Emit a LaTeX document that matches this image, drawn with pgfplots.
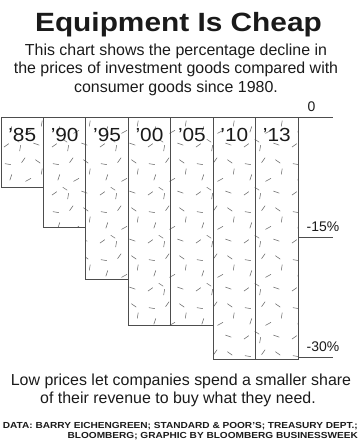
\documentclass[border=0pt]{standalone}
\usepackage{pgfplots}
\pgfplotsset{compat=1.18}
\usepackage{fontspec}
\setmainfont{Liberation Sans}
\usepackage{graphicx}
\usetikzlibrary{patterns}
\definecolor{edge}{HTML}{4D4D4D}
\definecolor{dash}{HTML}{6A6A6A}
\definecolor{txt}{HTML}{1A1A1A}
\pgfdeclarepatternformonly{confetti}{\pgfqpoint{0bp}{0bp}}{\pgfqpoint{48bp}{48bp}}{\pgfqpoint{48bp}{48bp}}{%
  \pgfsetlinewidth{0.55bp}%
  \pgfpathmoveto{\pgfqpoint{4bp}{6bp}}\pgfpathlineto{\pgfqpoint{9bp}{9.5bp}}%
  \pgfpathmoveto{\pgfqpoint{20bp}{2bp}}\pgfpathlineto{\pgfqpoint{21bp}{8bp}}%
  \pgfpathmoveto{\pgfqpoint{34bp}{10bp}}\pgfpathlineto{\pgfqpoint{40bp}{8bp}}%
  \pgfpathmoveto{\pgfqpoint{10bp}{21bp}}\pgfpathlineto{\pgfqpoint{12bp}{27bp}}%
  \pgfpathmoveto{\pgfqpoint{26bp}{20bp}}\pgfpathlineto{\pgfqpoint{31.5bp}{23bp}}%
  \pgfpathmoveto{\pgfqpoint{42bp}{27bp}}\pgfpathlineto{\pgfqpoint{43bp}{33bp}}%
  \pgfpathmoveto{\pgfqpoint{5bp}{38bp}}\pgfpathlineto{\pgfqpoint{11bp}{37bp}}%
  \pgfpathmoveto{\pgfqpoint{22bp}{39bp}}\pgfpathlineto{\pgfqpoint{25.5bp}{44bp}}%
  \pgfpathmoveto{\pgfqpoint{36bp}{42bp}}\pgfpathlineto{\pgfqpoint{41bp}{38.5bp}}%
  \pgfpathmoveto{\pgfqpoint{15bp}{14bp}}\pgfpathlineto{\pgfqpoint{19.5bp}{11bp}}%
  \pgfusepath{stroke}}
\begin{document}
\begin{tikzpicture}[x=1bp,y=1bp]
\useasboundingbox (0,0) rectangle (360,441);
% title and subtitle
\node[anchor=base, txt, inner sep=0] at (178.5,409.3) {\scalebox{1.13}[1]{\fontsize{26.5}{30}\selectfont\bfseries Equipment Is Cheap}};
\node[anchor=base, txt, inner sep=0, font=\fontsize{16}{18}\selectfont] at (176,385.5) {This chart shows the percentage decline in};
\node[anchor=base, txt, inner sep=0, font=\fontsize{16}{18}\selectfont] at (176,367) {the prices of investment goods compared with};
\node[anchor=base, txt, inner sep=0, font=\fontsize{16}{18}\selectfont] at (176,348.5) {consumer goods since 1980.};
% bottom note
\node[anchor=base, txt, inner sep=0, font=\fontsize{16}{18}\selectfont] at (181,55) {Low prices let companies spend a smaller share};
\node[anchor=base, txt, inner sep=0, font=\fontsize{16}{18}\selectfont] at (178,37) {of their revenue to buy what they need.};
% source
\node[anchor=base east, txt, inner sep=0] at (358,12) {\scalebox{1.15}[1]{\fontsize{8.8}{9}\selectfont\bfseries DATA: BARRY EICHENGREEN; STANDARD \& POOR'S; TREASURY DEPT.;}};
\node[anchor=base east, txt, inner sep=0] at (358,2.4) {\scalebox{1.15}[1]{\fontsize{8.8}{9}\selectfont\bfseries BLOOMBERG; GRAPHIC BY BLOOMBERG BUSINESSWEEK}};
\begin{axis}[
  at={(1bp,75.6bp)}, anchor=south west,
  scale only axis, width=332bp, height=247.4bp,
  xmin=-0.5, xmax=7.325, ymin=-31, ymax=0,
  hide axis, clip=false,
  ybar, bar width=1,
]
\addplot[draw=edge, line width=1bp, fill=white,
  postaction={pattern=confetti, pattern color=dash}]
  coordinates {(0,-8.68) (1,-13.75) (2,-20.2) (3,-26.0) (4,-26.0) (5,-30.3) (6,-30.3)};
\draw[edge, line width=1bp] (axis cs:-0.5,0) -- (axis cs:7.325,0);
\draw[edge, line width=1bp] (axis cs:6.5,-15) -- (axis cs:7.325,-15);
\draw[edge, line width=1bp] (axis cs:6.5,-30) -- (axis cs:7.325,-30);
\node[anchor=base west, inner sep=0, txt, font=\fontsize{14}{14}\selectfont, xshift=9.3bp, yshift=6.3bp] at (axis cs:6.5,0) {0};
\node[anchor=base west, inner sep=0, txt, font=\fontsize{14}{14}\selectfont, xshift=8.5bp, yshift=6.7bp] at (axis cs:6.5,-15) {-15\%};
\node[anchor=base west, inner sep=0, txt, font=\fontsize{14}{14}\selectfont, xshift=8.5bp, yshift=6.0bp] at (axis cs:6.5,-30) {-30\%};
\foreach \i/\lab in {0/’85,1/’90,2/’95,3/’00,4/’05,5/’10,6/’13}{
  \edef\temp{\noexpand\node[anchor=base, inner sep=0, text=txt, yshift=-23.7bp] at (axis cs:\i,0) {\noexpand\scalebox{1.1}[1]{\noexpand\fontsize{19}{19}\noexpand\selectfont \lab}};}
  \temp
}
\end{axis}
\end{tikzpicture}
\end{document}
